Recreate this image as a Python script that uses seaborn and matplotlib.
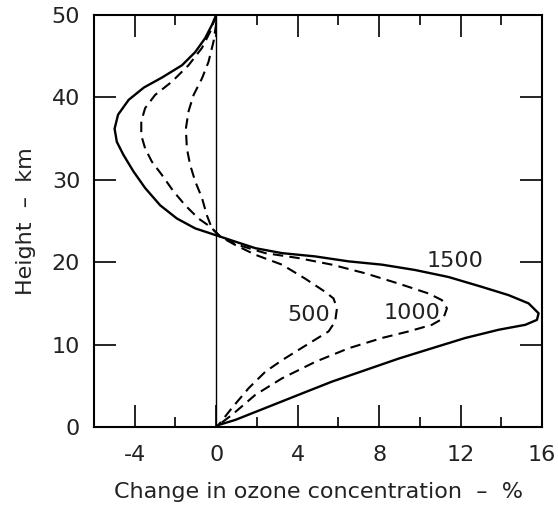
import matplotlib
matplotlib.use("Agg")
import matplotlib.pyplot as plt
import seaborn as sns
import pandas as pd
from matplotlib.ticker import MultipleLocator

# ---- data ----
# 1500 (solid)
x1500 = [0.0, -0.21, -0.54, -1.03, -1.68, -2.67, -3.55, -4.30, -4.82, -4.99, -4.88, -4.55,
         -4.06, -3.49, -2.75, -1.93, -1.03, -0.29, 0.2,
         0.93, 1.92, 3.23, 4.86, 6.50, 8.14, 9.77, 11.41, 13.05, 14.36, 15.34, 15.83, 15.75,
         15.18, 13.87, 12.23, 10.59, 8.96, 7.32, 5.68, 4.04, 2.41, 0.93, 0.11, 0.0]
y1500 = [50.0, 48.8, 47.2, 45.5, 43.9, 42.4, 41.2, 39.7, 37.9, 36.2, 34.6, 33.0,
         31.0, 29.0, 26.9, 25.3, 24.1, 23.5, 23.1,
         22.5, 21.7, 21.1, 20.7, 20.1, 19.7, 19.05, 18.2, 17.0, 16.0, 15.0, 13.8, 13.0,
         12.4, 11.8, 10.8, 9.55, 8.3, 6.9, 5.5, 3.9, 2.3, 0.85, 0.24, 0.0]
# 1000 (dashed)
x1000 = [0.0, -0.29, -0.70, -1.36, -2.18, -3.0, -3.49, -3.68, -3.68, -3.49, -3.16, -2.67,
         -2.10, -1.52, -0.87, -0.29, 0.2,
         0.93, 2.41, 4.04, 5.68, 7.32, 8.96, 10.43, 11.08, 11.33, 11.16, 10.59, 9.45, 8.14,
         6.50, 4.86, 3.23, 1.92, 0.77, 0.11, 0.0]
y1000 = [50.0, 48.0, 46.0, 43.9, 41.9, 40.3, 38.7, 37.1, 35.4, 33.8, 32.2, 30.6,
         28.6, 26.9, 25.3, 24.3, 23.1,
         22.2, 21.1, 20.5, 19.7, 18.65, 17.4, 16.2, 15.4, 14.4, 13.2, 12.4, 11.6, 10.8,
         9.55, 7.9, 5.9, 3.9, 1.46, 0.24, 0.0]
# 500 (dashed)
x500 = [0.0, -0.13, -0.38, -0.70, -1.11, -1.36, -1.49, -1.44, -1.28, -1.03, -0.70, -0.46,
        -0.21, 0.2,
        0.93, 1.92, 3.23, 4.37, 5.35, 5.76, 5.93, 5.84, 5.52, 4.86, 4.04, 3.23, 2.41, 1.59,
        0.77, 0.11, 0.0]
y500 = [49.0, 46.8, 44.3, 42.3, 40.3, 38.3, 36.2, 33.8, 31.8, 29.8, 27.8, 25.7,
        24.1, 23.1,
        22.1, 20.9, 19.7, 18.0, 16.4, 15.6, 14.4, 12.8, 11.6, 10.6, 9.35, 8.1, 6.7, 4.7,
        2.3, 0.24, 0.0]

series_names = ["1500", "1000", "500"]
label_x = [11.74, 9.61, 4.53]
label_y = [20.1, 13.8, 13.6]
xticks_major = [-4, 0, 4, 8, 12, 16]
yticks = [0, 10, 20, 30, 40, 50]

df = pd.concat([
    pd.DataFrame({"x": x1500, "y": y1500, "s": "1500"}),
    pd.DataFrame({"x": x1000, "y": y1000, "s": "1000"}),
    pd.DataFrame({"x": x500, "y": y500, "s": "500"}),
])

sns.set_style("ticks")
plt.rcParams["font.family"] = ["DejaVu Sans"]

fig = plt.figure(figsize=(5.58, 5.05), dpi=100)
ax = fig.add_axes([0.1685, 0.1545, 0.8029, 0.8158])

styles = {"1500": dict(lw=1.7, ls="-"),
          "1000": dict(lw=1.5, ls=(0, (5, 3))),
          "500": dict(lw=1.5, ls=(0, (5, 3)))}
for name in series_names:
    sub = df[df["s"] == name]
    sns.lineplot(data=sub, x="x", y="y", sort=False, estimator=None, ax=ax,
                 color="black", linewidth=styles[name]["lw"],
                 linestyle=styles[name]["ls"])

ax.axvline(0, color="black", lw=1.0, zorder=1)

for name, lx, ly in zip(series_names, label_x, label_y):
    ax.text(lx, ly, name, ha="center", va="center", fontsize=16, color="#222222")

ax.set_xlim(-6, 16)
ax.set_ylim(0, 50)
ax.set_xticks(xticks_major)
ax.set_xticklabels([str(v) for v in xticks_major])
ax.xaxis.set_minor_locator(MultipleLocator(2))
ax.set_yticks(yticks)
ax.set_yticklabels([str(v) for v in yticks])

ax.tick_params(axis="x", which="major", direction="in", length=16, width=1.2,
               top=True, bottom=True, labelsize=16, pad=13, colors="black",
               labelcolor="#222222")
ax.tick_params(axis="x", which="minor", direction="in", length=7.5, width=1.2,
               top=True, bottom=True, colors="black")
ax.tick_params(axis="y", which="major", direction="in", length=16, width=1.2,
               left=True, right=True, labelsize=16, pad=10, colors="black",
               labelcolor="#222222")
for sp in ax.spines.values():
    sp.set_visible(True)
    sp.set_linewidth(1.5)
    sp.set_color("black")

ax.set_xlabel("Change in ozone concentration  –  %", fontsize=16, labelpad=12,
              color="#222222")
ax.set_ylabel("Height  –  km", fontsize=16, labelpad=11, color="#222222")
if ax.get_legend() is not None:
    ax.get_legend().remove()

fig.savefig("out.png", dpi=100, facecolor="white")
